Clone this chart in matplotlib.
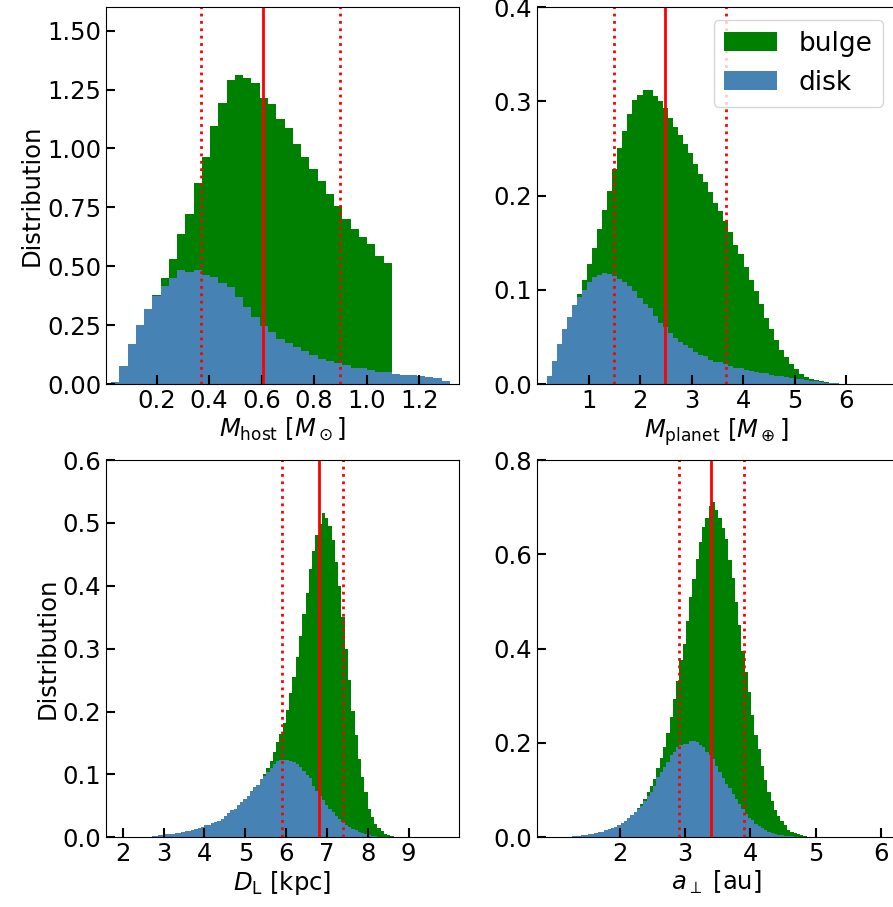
import numpy as np
import matplotlib
matplotlib.use("Agg")
import matplotlib.pyplot as plt

# ---- data (stacked: disk at bottom, bulge on top) ----
# host mass [M_sun], 41 bins
mhost_range = (0.026, 1.317)
mhost_disk = [0.008, 0.078, 0.171, 0.251, 0.319, 0.376, 0.417, 0.451, 0.484, 0.477,
              0.484, 0.463, 0.456, 0.429, 0.412, 0.371, 0.329, 0.285, 0.247, 0.222,
              0.192, 0.175, 0.158, 0.141, 0.126, 0.107, 0.100, 0.090, 0.082, 0.069,
              0.069, 0.061, 0.052, 0.052, 0.044, 0.040, 0.040, 0.037, 0.031, 0.025,
              0.014]
mhost_total = [0.008, 0.078, 0.171, 0.251, 0.319, 0.379, 0.451, 0.531, 0.637, 0.722,
               0.853, 0.963, 1.095, 1.191, 1.292, 1.311, 1.301, 1.277, 1.213, 1.188,
               1.124, 1.088, 1.018, 0.966, 0.912, 0.864, 0.806, 0.756, 0.701, 0.658,
               0.624, 0.595, 0.544, 0.514, 0.044, 0.040, 0.040, 0.037, 0.031, 0.025,
               0.014]
mhost_lines = (0.368, 0.606, 0.898)

# planet mass [M_earth], 59 bins
mpl_range = (0.18, 5.97)
mpl_disk = [0.0088, 0.0244, 0.0424, 0.0583, 0.0710, 0.0837, 0.0922, 0.1004, 0.1081, 0.1134,
            0.1155, 0.1177, 0.1173, 0.1152, 0.1117, 0.1085, 0.1039, 0.0986, 0.0912, 0.0855,
            0.0806, 0.0721, 0.0650, 0.0608, 0.0541, 0.0488, 0.0445, 0.0413, 0.0382, 0.0346,
            0.0311, 0.0300, 0.0254, 0.0233, 0.0233, 0.0212, 0.0191, 0.0170, 0.0170, 0.0148,
            0.0138, 0.0127, 0.0117, 0.0117, 0.0095, 0.0085, 0.0085, 0.0074, 0.0064, 0.0053,
            0.0053, 0.0042, 0.0032, 0.0032, 0.0021, 0.0011, 0.0011, 0.0011, 0.0007]
mpl_total = [0.0088, 0.0244, 0.0424, 0.0583, 0.0710, 0.0837, 0.0954, 0.1102, 0.1272, 0.1442,
             0.1643, 0.1845, 0.2046, 0.2279, 0.2502, 0.2682, 0.2862, 0.3011, 0.3064, 0.3117,
             0.3117, 0.3053, 0.3000, 0.2926, 0.2820, 0.2724, 0.2640, 0.2544, 0.2449, 0.2332,
             0.2226, 0.2141, 0.2035, 0.1919, 0.1834, 0.1728, 0.1611, 0.1477, 0.1378, 0.1240,
             0.1102, 0.0986, 0.0848, 0.0700, 0.0583, 0.0466, 0.0360, 0.0286, 0.0212, 0.0159,
             0.0106, 0.0074, 0.0053, 0.0042, 0.0032, 0.0021, 0.0014, 0.0011, 0.0007]
mpl_lines = (1.487, 2.474, 3.668)

# lens distance [kpc], 75 bins
dl_range = (2.633, 8.633)
dl_disk = [0.0011, 0.0016, 0.0021, 0.0032, 0.0037, 0.0048, 0.0053, 0.0058, 0.0069, 0.0074,
           0.0085, 0.0101, 0.0106, 0.0122, 0.0132, 0.0143, 0.0164, 0.0190, 0.0201, 0.0222,
           0.0243, 0.0265, 0.0291, 0.0333, 0.0386, 0.0429, 0.0444, 0.0508, 0.0556, 0.0603,
           0.0651, 0.0730, 0.0794, 0.0825, 0.0921, 0.0968, 0.1032, 0.1095, 0.1159, 0.1212,
           0.1222, 0.1222, 0.1222, 0.1217, 0.1196, 0.1159, 0.1111, 0.1048, 0.0984, 0.0937,
           0.0810, 0.0730, 0.0651, 0.0587, 0.0508, 0.0444, 0.0397, 0.0333, 0.0286, 0.0238,
           0.0190, 0.0160, 0.0130, 0.0116, 0.0084, 0.0068, 0.0052, 0.0037, 0.0021, 0.0021,
           0.0010, 0.0010, 0.0005, 0.0005, 0.0005]
dl_total = [0.0011, 0.0016, 0.0021, 0.0032, 0.0037, 0.0048, 0.0053, 0.0058, 0.0069, 0.0074,
            0.0085, 0.0101, 0.0106, 0.0122, 0.0132, 0.0143, 0.0164, 0.0190, 0.0201, 0.0222,
            0.0243, 0.0265, 0.0291, 0.0333, 0.0386, 0.0429, 0.0444, 0.0508, 0.0556, 0.0603,
            0.0651, 0.0730, 0.0794, 0.0825, 0.0921, 0.1000, 0.1095, 0.1206, 0.1349, 0.1508,
            0.1635, 0.1825, 0.2032, 0.2302, 0.2556, 0.2873, 0.3206, 0.3556, 0.3889, 0.4270,
            0.4556, 0.4810, 0.4984, 0.5159, 0.5079, 0.4952, 0.4730, 0.4381, 0.4000, 0.3508,
            0.3000, 0.2508, 0.2005, 0.1624, 0.1243, 0.0957, 0.0719, 0.0449, 0.0322, 0.0211,
            0.0148, 0.0100, 0.0052, 0.0037, 0.0021]
dl_lines = (5.899, 6.797, 7.40)

# projected separation [au], 74 bins
ap_range = (1.26, 4.96)
ap_disk = [0.0021, 0.0028, 0.0035, 0.0042, 0.0057, 0.0064, 0.0078, 0.0092, 0.0106, 0.0120,
           0.0148, 0.0170, 0.0198, 0.0226, 0.0262, 0.0297, 0.0346, 0.0403, 0.0467, 0.0530,
           0.0600, 0.0657, 0.0763, 0.0869, 0.0954, 0.1081, 0.1272, 0.1378, 0.1484, 0.1590,
           0.1739, 0.1802, 0.1908, 0.1951, 0.1972, 0.1972, 0.2035, 0.2035, 0.2014, 0.1951,
           0.1908, 0.1802, 0.1739, 0.1654, 0.1505, 0.1378, 0.1251, 0.1124, 0.1039, 0.0912,
           0.0806, 0.0700, 0.0594, 0.0488, 0.0403, 0.0360, 0.0276, 0.0233, 0.0191, 0.0148,
           0.0106, 0.0085, 0.0064, 0.0042, 0.0042, 0.0035, 0.0021, 0.0021, 0.0014, 0.0014,
           0.0007, 0.0007, 0.0007, 0.0007]
ap_total = [0.0021, 0.0028, 0.0035, 0.0042, 0.0057, 0.0064, 0.0078, 0.0092, 0.0106, 0.0120,
            0.0148, 0.0170, 0.0198, 0.0226, 0.0262, 0.0297, 0.0346, 0.0403, 0.0467, 0.0530,
            0.0630, 0.0700, 0.0806, 0.0954, 0.1081, 0.1230, 0.1463, 0.1675, 0.1908, 0.2205,
            0.2544, 0.2926, 0.3307, 0.3753, 0.4092, 0.4580, 0.5088, 0.5470, 0.5894, 0.6254,
            0.6572, 0.6763, 0.7018, 0.7102, 0.6933, 0.6763, 0.6551, 0.6318, 0.5873, 0.5491,
            0.4982, 0.4495, 0.3943, 0.3498, 0.3074, 0.2587, 0.2163, 0.1866, 0.1505, 0.1208,
            0.0954, 0.0763, 0.0572, 0.0445, 0.0339, 0.0254, 0.0148, 0.0106, 0.0085, 0.0064,
            0.0042, 0.0021, 0.0014, 0.0007]
ap_lines = (2.904, 3.398, 3.904)

xlabels = [r'$M_{\rm host}$ [$M_\odot$]', r'$M_{\rm planet}$ [$M_\oplus$]',
           r'$D_{\rm L}$ [kpc]', r'$a_\perp$ [au]']
xticks = [[0.2, 0.4, 0.6, 0.8, 1.0, 1.2], [1, 2, 3, 4, 5, 6],
          [2, 3, 4, 5, 6, 7, 8, 9], [2, 3, 4, 5, 6]]
yticks = [[0, 0.25, 0.5, 0.75, 1.0, 1.25, 1.5], [0, 0.1, 0.2, 0.3, 0.4],
          [0, 0.1, 0.2, 0.3, 0.4, 0.5, 0.6], [0, 0.2, 0.4, 0.6, 0.8]]

panels = [
    (mhost_range, mhost_disk, mhost_total, mhost_lines),
    (mpl_range, mpl_disk, mpl_total, mpl_lines),
    (dl_range, dl_disk, dl_total, dl_lines),
    (ap_range, ap_disk, ap_total, ap_lines),
]

FS = 17.5
fig = plt.figure(figsize=(8.93, 9.07), dpi=100)
W, H = 893.0, 907.0
# axes boxes in pixels: (left, top, right, bottom)
boxes = [(106, 7, 459, 384.3), (537.3, 7, 896, 384.3),
         (106, 460, 459, 837.3), (537.3, 460, 896, 837.3)]
xlims = [(0.007, 1.352), (0.0, 6.97), (1.59, 10.23), (0.734, 6.23)]
ylims = [(0, 1.6), (0, 0.4), (0, 0.6), (0, 0.8)]

for i, (rng, disk, total, lines) in enumerate(panels):
    l, t, r, b = boxes[i]
    ax = fig.add_axes([l / W, 1 - b / H, (r - l) / W, (b - t) / H])
    edges = np.linspace(rng[0], rng[1], len(disk) + 1)
    ax.stairs(total, edges, fill=True, color='green', label='bulge', lw=0)
    ax.stairs(disk, edges, fill=True, color='steelblue', label='disk', lw=0)
    lo, med, hi = lines
    ax.axvline(med, color='red', lw=2)
    ax.axvline(lo, color='red', lw=2, ls=':')
    ax.axvline(hi, color='red', lw=2, ls=':')
    ax.set_xlim(*xlims[i])
    ax.set_ylim(*ylims[i])
    ax.set_xticks(xticks[i])
    ax.set_yticks(yticks[i])
    ax.tick_params(direction='in', length=6.5, width=1.5, labelsize=FS,
                   top=False, right=False)
    ax.set_xlabel(xlabels[i], fontsize=FS, labelpad=2)
    if i % 2 == 0:
        ax.set_ylabel('Distribution', fontsize=FS, labelpad=2)
    if i == 1:
        ax.legend(loc='upper right', fontsize=19)

fig.savefig('out.png', dpi=100)
